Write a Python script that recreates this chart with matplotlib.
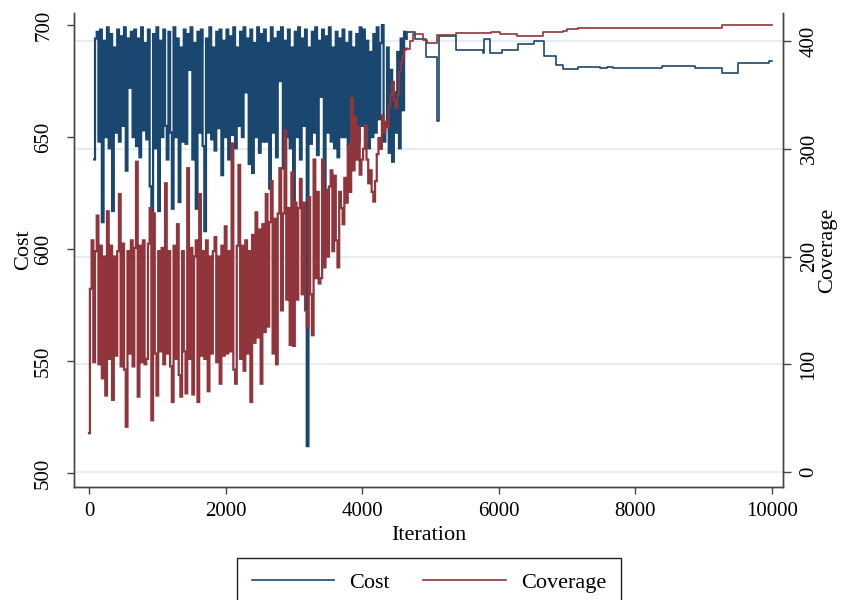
import numpy as np
import matplotlib
matplotlib.use('Agg')
import matplotlib.pyplot as plt
from matplotlib import rcParams

# Настройки шрифта
rcParams['font.family'] = ['Liberation Serif', 'DejaVu Serif']

navy = '#1a476f'
maroon = '#90353b'
grid_color = '#e6eef0'

# Шумная часть: значения через каждые 25 итераций
cost_start = 75
cost_noisy = [
    640, 694, 697, 648, 698, 612, 693, 650, 699, 645, 696, 617, 690, 652, 698, 648,
    695, 655, 699, 635, 694, 672, 697, 650, 698, 646, 694, 641, 699, 653, 692, 649,
    698, 628, 611, 696, 645, 699,
    617, 693, 650, 698, 655, 640, 697, 652, 618, 699, 650, 694, 621, 690, 648, 698,
    647, 696, 680, 699, 640, 692, 618, 697, 652, 698, 646, 608, 694, 652, 699, 649,
    690, 644, 697, 654, 698, 633, 693, 650,
    698, 640, 695, 651, 699, 645, 690, 655, 697, 650, 699, 670, 694, 638, 698, 634,
    692, 650, 699, 643, 696, 648, 698, 648, 692, 627, 699, 652, 694, 641, 697, 675,
    699, 636, 693, 650, 698, 645, 690, 621,
    697, 650, 699, 640, 694, 655, 698, 512, 690, 647, 697, 652, 699, 642, 693, 668,
    698, 623, 695, 652, 699, 648, 690, 645, 697, 641, 694, 650, 698, 650, 692, 646,
    697, 655, 690, 652, 696, 648, 699, 655,
    698, 655, 693, 645, 688, 650, 696, 652, 699, 658, 692, 700, 648, 655, 690, 643,
    680, 639, 670, 652, 688, 645, 694, 662, 697, 694,
]

cov_start = 0
cov_noisy = [
    36, 170, 215, 102, 205, 238, 100, 210, 87, 200, 71, 242, 105, 210, 67, 200,
    108, 205, 258, 98, 212, 95, 42, 205, 110, 215, 98, 208, 288, 70, 210, 102,
    215, 100, 105, 212, 245, 48, 240, 110,
    71, 205, 112, 208, 100, 268, 110, 205, 98, 65, 210, 105, 230, 90, 70, 205,
    112, 73, 282, 105, 208, 72, 200, 215, 65, 258, 108, 205, 105, 215, 75, 200,
    110, 205, 218, 102, 200, 82, 210, 108,
    228, 110, 205, 112, 305, 95, 82, 210, 285, 105, 210, 94, 215, 110, 205, 65,
    220, 120, 241, 125, 225, 82, 230, 130, 258, 135, 232, 270, 110, 235, 100, 240,
    282, 150, 240, 317, 160, 245, 118, 278,
    117, 250, 160, 245, 272, 165, 250, 150, 134, 255, 165, 127, 290, 180, 260, 175,
    180, 290, 190, 262, 200, 265, 280, 205, 275, 215, 190, 260, 245, 230, 273, 250,
    303, 260, 347, 280, 330, 290, 320, 276,
    290, 300, 322, 290, 268, 280, 260, 251, 270, 295, 310, 300, 331, 315, 325, 320,
    340, 350, 362, 345, 338, 350, 372, 380, 385, 392, 393,
]

# Спокойная часть: точки смены значений (итерация, значение)
cost_step_iter = [4660, 4775, 4935, 5095, 5125, 5375, 5770, 5785, 5870, 6045, 6280,
                  6515, 6660, 6835, 6940, 7160, 7480, 7585, 7670, 8390, 8875, 9270,
                  9500, 9950, 10000]
cost_step_val = [696.9, 693.8, 685.7, 657.0, 695.0, 689.0, 687.5, 693.7, 687.5, 689.0,
                 691.5, 693.0, 686.0, 682.0, 680.4, 681.4, 680.7, 681.4, 680.7, 681.6,
                 680.7, 678.7, 683.3, 683.9, 683.9]

cov_step_iter = [4700, 4745, 4890, 4950, 5095, 5375, 5885, 6020, 6265, 6645, 6940,
                 7000, 7160, 9270, 10000]
cov_step_val = [400.0, 406.5, 401.0, 398.0, 405.5, 407.0, 408.0, 406.5, 405.0, 408.0,
                409.5, 410.8, 411.8, 415.0, 415.0]

cost_ticks = [500, 550, 600, 650, 700]
cov_ticks = [0, 100, 200, 300, 400]
x_ticks = [0, 2000, 4000, 6000, 8000, 10000]

cost_nx = cost_start + 25 * np.arange(len(cost_noisy))
cov_nx = cov_start + 25 * np.arange(len(cov_noisy))
# спокойная часть начинается с последней шумной точки
cost_sx = np.concatenate([cost_nx[-1:], cost_step_iter])
cost_sy = np.concatenate([cost_noisy[-1:], cost_step_val])
cov_sx = np.concatenate([cov_nx[-1:], cov_step_iter])
cov_sy = np.concatenate([cov_noisy[-1:], cov_step_val])

fig = plt.figure(figsize=(8.44, 6), dpi=100)
rect = [0.0877, 0.1883, 0.840, 0.79]

# Фоновые оси только для сетки (по правой оси)
ax_bg = fig.add_axes(rect)
ax_bg.set_xlim(-220, 10160)
ax_bg.set_ylim(-13.9, 426)
ax_bg.set_yticks(cov_ticks)
ax_bg.grid(True, axis='y', color=grid_color, linewidth=1.5)
ax_bg.set_xticks([])
ax_bg.tick_params(left=False, labelleft=False)
for s in ax_bg.spines.values():
    s.set_visible(False)

ax = fig.add_axes(rect)
ax.patch.set_visible(False)
ax2 = ax.twinx()

ax.plot(cost_nx, cost_noisy, color=navy, linewidth=1.6, drawstyle='steps-mid',
        snap=False, solid_joinstyle='miter')
l1, = ax.plot(cost_sx, cost_sy, color=navy, linewidth=1.2, drawstyle='steps-post')
ax2.plot(cov_nx, cov_noisy, color=maroon, linewidth=1.6, drawstyle='steps-mid',
         snap=False, solid_joinstyle='miter')
l2, = ax2.plot(cov_sx, cov_sy, color=maroon, linewidth=1.2, drawstyle='steps-post')

ax.set_xlim(-220, 10160)
ax.set_ylim(493.75, 705.4)
ax2.set_ylim(-13.9, 426)
ax.set_xticks(x_ticks)
ax.set_yticks(cost_ticks)
ax2.set_yticks(cov_ticks)

for a in (ax, ax2):
    a.spines['top'].set_visible(False)
    for s in a.spines.values():
        s.set_color('#444444')
        s.set_linewidth(1.0)

ax.tick_params(axis='both', direction='out', length=5, width=1, color='#444444', labelsize=15)
ax.tick_params(axis='y', labelrotation=90, pad=10)
ax.tick_params(axis='x', pad=6)
ax2.tick_params(axis='y', direction='out', length=6, width=1, color='#444444', labelsize=15,
                labelrotation=90, pad=6)
for t in ax.get_yticklabels():
    t.set_va('center')
for t in ax2.get_yticklabels():
    t.set_va('center')

ax.set_xlabel('Iteration', fontsize=16)
ax.set_ylabel('Cost', fontsize=16)
ax2.set_ylabel('Coverage', fontsize=16)
ax.xaxis.set_label_coords(0.5, -0.083)
ax.yaxis.set_label_coords(-0.058, 0.5)
ax2.yaxis.set_label_coords(1.049, 0.5)

leg = fig.legend([l1, l2], ['Cost', 'Coverage'], loc='upper center',
                 bbox_to_anchor=(429 / 844, 1 - 558 / 600), ncol=2, fontsize=16,
                 frameon=True, fancybox=False, edgecolor='#222222', framealpha=1,
                 handlelength=3.7, handletextpad=0.7, columnspacing=1.5, borderpad=0.65,
                 borderaxespad=0)
leg.get_frame().set_linewidth(1.0)

fig.savefig('out.png', dpi=100)
plt.close(fig)
